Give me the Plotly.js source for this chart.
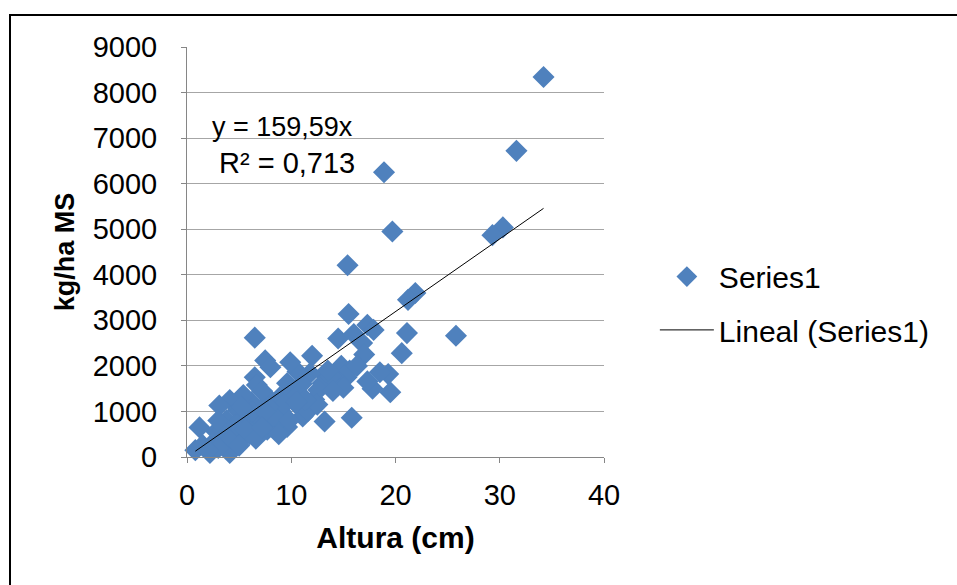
<!DOCTYPE html>
<html>
<head>
<meta charset="utf-8">
<script src="https://cdn.plot.ly/plotly-3.0.1.min.js"></script>
<style>
  html, body { margin: 0; padding: 0; background: #fff; overflow: hidden; }
  #frame { position: absolute; left: 9px; top: 14px; width: 1000px; height: 700px; border: 2px solid #000; box-sizing: border-box; }
  #chart { position: absolute; left: 0; top: 0; width: 957px; height: 585px; }
</style>
</head>
<body>
<div id="chart"></div>
<div id="frame"></div>
<script>
// Altura (cm)
const alturaCm = [
  34.2, 31.6, 18.9, 19.7, 15.4, 30.3, 29.3, 21.9, 21.2, 25.8, 21.1, 20.6, 19.3, 19.5, 17.8, 17.3, 15.8, 13.2,
  15.5, 17.3, 17.9, 16.8, 17.0, 14.5, 14.8, 15.3, 15.6, 14.2, 15.0, 13.4, 13.0, 12.0, 11.8, 10.6, 9.9, 9.6,
  8.9, 10.8, 11.1, 11.6, 12.2, 12.6, 9.6, 8.5, 7.7, 8.0, 7.5, 8.0, 6.5, 6.5, 6.7, 7.2, 6.7, 5.8, 6.2, 5.4,
  4.9, 4.1, 3.1, 3.8, 4.4, 3.5, 2.5, 2.8, 1.2, 0.8, 1.5, 2.2, 4.1, 5.1, 3.0, 6.0, 7.0, 9.0, 10.0, 11.0, 13.8,
  16.0, 16.3, 18.5, 14.0, 12.5, 10.3, 9.3, 8.3, 5.5, 4.6, 2.0, 3.4, 7.8, 11.4, 13.5, 6.2, 4.3, 5.2,
  4.8, 5.6, 6.6, 3.0, 7.5, 8.8, 9.8, 10.5, 7.2, 5.0
];
// kg/ha MS
const kgHaMS = [
  8340, 6720, 6250, 4950, 4210, 5040, 4870, 3600, 3450, 2660, 2720, 2280, 1820, 1420, 1500, 1660, 860, 780,
  3140, 2900, 2790, 2500, 2250, 2600, 2000, 1750, 1900, 1600, 1520, 1760, 1620, 2220, 1840, 1870, 2080, 1620,
  1310, 1090, 890, 1010, 1260, 1470, 660, 720, 600, 1250, 2120, 1970, 2620, 1750, 1580, 1450, 960, 740, 1200, 1360,
  1030, 1250, 1130, 810, 530, 370, 310, 560, 650, 150, 260, 90, 90, 370, 200, 500, 850, 1000, 1450, 1600, 1780,
  2700, 2000, 1860, 1450, 1150, 1300, 1150, 900, 900, 700, 150, 600, 1100, 1250, 1900, 1000, 400, 1100,
  700, 600, 400, 800, 1000, 500, 800, 1200, 650, 250
];
const seriesName = "Series1";
const trendName = "Lineal (Series1)";
const trendSlope = 159.59;
const equationLines = ["y = 159,59x", "R\u00b2 = 0,713"];
const xTicks = [0, 10, 20, 30, 40];
const yTicks = [0, 1000, 2000, 3000, 4000, 5000, 6000, 7000, 8000, 9000];

const xMin = Math.min(...alturaCm), xMax = Math.max(...alturaCm);
const trendX = [xMin, xMax];
const trendY = trendX.map(v => trendSlope * v);

const FONT = "Liberation Sans, Arial, sans-serif";

const traces = [
  {
    x: alturaCm, y: kgHaMS, type: "scatter", mode: "markers", name: seriesName,
    marker: { symbol: "diamond", size: 17, color: "#4F81BD", line: { width: 0 } },
    legend: "legend", cliponaxis: false
  },
  {
    x: trendX, y: trendY, type: "scatter", mode: "lines", name: trendName,
    line: { color: "#000", width: 1 }, legend: "legend2"
  }
];

const layout = {
  width: 957, height: 585,
  margin: { l: 187, r: 353, t: 47, b: 128 },
  paper_bgcolor: "#fff", plot_bgcolor: "#fff",
  font: { family: FONT, size: 29, color: "#000" },
  xaxis: {
    range: [0, 40], tickvals: xTicks, ticktext: xTicks.map(String),
    showgrid: false, zeroline: false, showline: true, linecolor: "#868686", linewidth: 1,
    ticks: "outside", ticklen: 5, tickcolor: "#868686", ticklabelstandoff: 7,
    tickfont: { family: FONT, size: 29 },
    title: { text: "<b>Altura (cm)</b>", font: { family: FONT, size: 30 }, standoff: 17 }
  },
  yaxis: {
    range: [0, 9000], tickvals: yTicks, ticktext: yTicks.map(String),
    showgrid: true, gridcolor: "#A6A6A6", gridwidth: 1, zeroline: false,
    showline: true, linecolor: "#868686", linewidth: 1,
    ticks: "outside", ticklen: 5, tickcolor: "#868686", ticklabelstandoff: 18,
    tickfont: { family: FONT, size: 29 },
    title: { text: "<b>kg/ha MS</b>", font: { family: FONT, size: 27 }, standoff: 10 }
  },
  showlegend: true,
  legend: {
    x: 1.122, y: 0.44, xanchor: "left", yanchor: "middle",
    font: { family: FONT, size: 30 }, bgcolor: "rgba(0,0,0,0)", itemwidth: 54
  },
  legend2: {
    x: 1.122, y: 0.31, xanchor: "left", yanchor: "middle",
    font: { family: FONT, size: 30 }, bgcolor: "rgba(0,0,0,0)", itemwidth: 54
  },
  annotations: [
    {
      xref: "paper", yref: "paper", x: 0.055, y: 0.805, xanchor: "left", yanchor: "middle",
      text: equationLines[0], showarrow: false, font: { family: FONT, size: 27 }
    },
    {
      xref: "paper", yref: "paper", x: 0.073, y: 0.717, xanchor: "left", yanchor: "middle",
      text: equationLines[1], showarrow: false, font: { family: FONT, size: 29 }
    }
  ]
};

Plotly.newPlot("chart", traces, layout, { displayModeBar: false, staticPlot: true });
</script>
</body>
</html>
